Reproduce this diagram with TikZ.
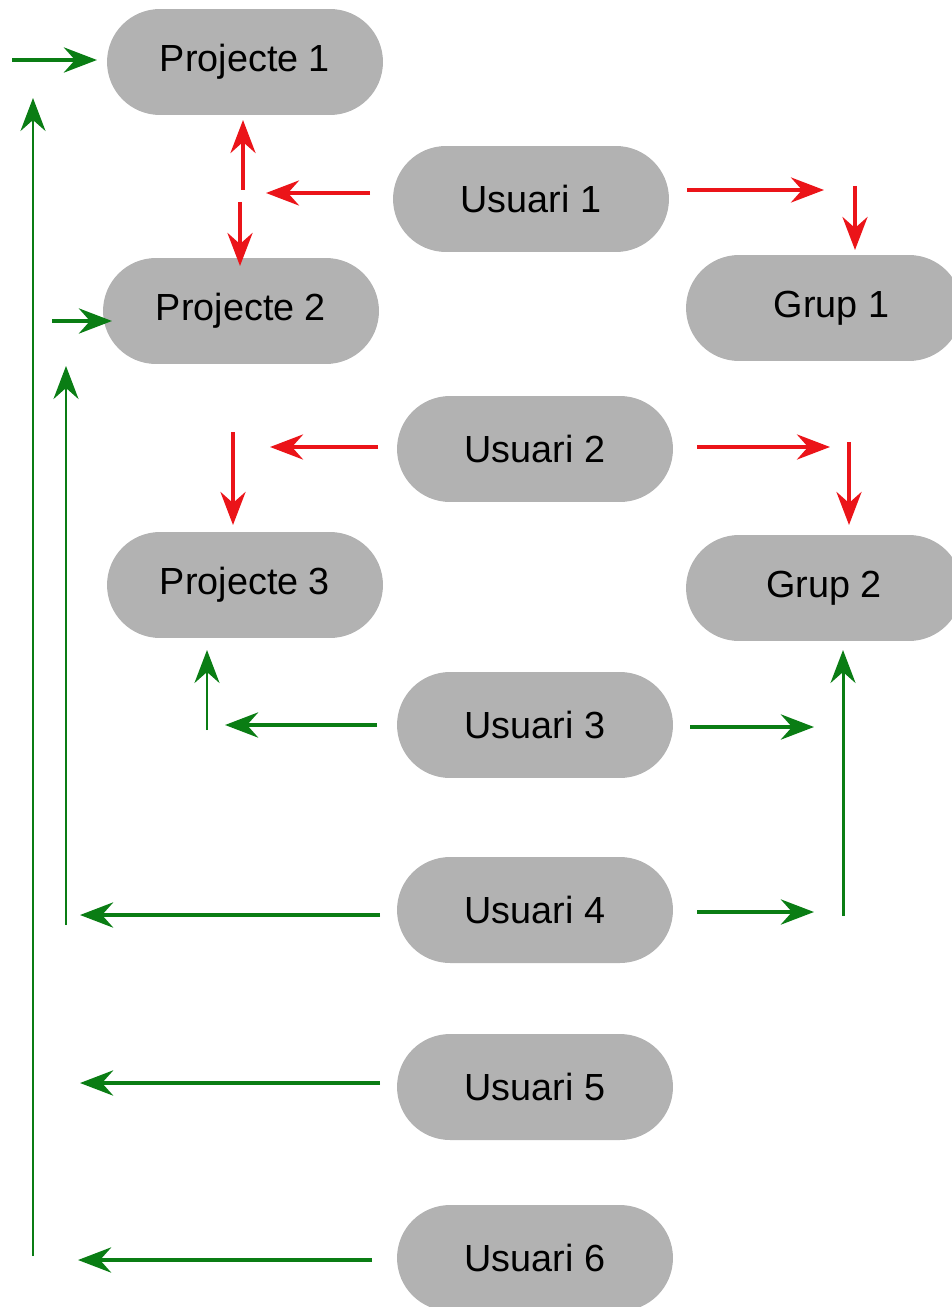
\documentclass[tikz,border=0pt]{standalone}
\usepackage{fontspec}
\setmainfont{Liberation Sans}
\usetikzlibrary{arrows.meta}
\definecolor{boxgray}{RGB}{178,178,178}
\definecolor{arrgreen}{RGB}{10,125,20}
\definecolor{arrred}{RGB}{235,20,25}
\begin{document}
\begin{tikzpicture}[x=0.02cm,y=-0.02cm,
  box/.style={fill=boxgray,draw=none,rounded corners=1.06cm,minimum width=5.52cm,minimum height=2.12cm,inner sep=0pt,font=\fontsize{21.5}{25}\selectfont,text=black},
  tip/.style={-{Stealth[length=0.66cm,width=0.5cm,inset=0.22cm]}},
  garr/.style={tip,draw=arrgreen,fill=arrgreen,line width=2.8pt},
  gthin/.style={tip,draw=arrgreen,fill=arrgreen,line width=1.7pt},
  rarr/.style={tip,draw=arrred,fill=arrred,line width=2.4pt}]
\useasboundingbox (0,0) rectangle (951,1307);
% nodes
\node[box] (p1) at (245,62) {Projecte 1};
\node[box] (u1) at (531,199) {Usuari 1};
\node[box] (p2) at (241,311) {Projecte 2};
\node[box] (g1) at (824,308) {\hspace{0.3cm}Grup 1};
\node[box] (u2) at (535,449) {Usuari 2};
\node[box] (p3) at (245,585) {Projecte 3};
\node[box] (g2) at (824,588) {Grup 2\hspace{0.25cm}};
\node[box] (u3) at (535,725) {Usuari 3};
\node[box] (u4) at (535,910) {Usuari 4};
\node[box] (u5) at (535,1087) {Usuari 5};
\node[box] (u6) at (535,1258) {Usuari 6};
% coordinates
\coordinate (a1s) at (12,60);   \coordinate (a1e) at (97,60);
\coordinate (a2s) at (33,1256); \coordinate (a2e) at (33,98);
\coordinate (a3s) at (52,321);  \coordinate (a3e) at (112,321);
\coordinate (a4s) at (66,925);  \coordinate (a4e) at (66,366);
\coordinate (a5s) at (377,725); \coordinate (a5e) at (225,725);
\coordinate (a6s) at (207,730); \coordinate (a6e) at (207,650);
\coordinate (a7s) at (690,727); \coordinate (a7e) at (814,727);
\coordinate (a8s) at (843,916); \coordinate (a8e) at (843,650);
\coordinate (a9s) at (380,915); \coordinate (a9e) at (80,915);
\coordinate (a10s) at (697,912); \coordinate (a10e) at (814,912);
\coordinate (a11s) at (380,1083); \coordinate (a11e) at (80,1083);
\coordinate (a12s) at (372,1260); \coordinate (a12e) at (78,1260);
\coordinate (r1s) at (370,193); \coordinate (r1e) at (266,193);
\coordinate (r2s) at (243,190); \coordinate (r2e) at (243,120);
\coordinate (r3s) at (240,202); \coordinate (r3e) at (240,266);
\coordinate (r4s) at (687,190); \coordinate (r4e) at (824,190);
\coordinate (r5s) at (855,186); \coordinate (r5e) at (855,250);
\coordinate (r6s) at (378,447); \coordinate (r6e) at (270,447);
\coordinate (r7s) at (233,432); \coordinate (r7e) at (233,525);
\coordinate (r8s) at (697,447); \coordinate (r8e) at (830,447);
\coordinate (r9s) at (849,442); \coordinate (r9e) at (849,525);
% green
\draw[garr] (a1s) -- (a1e);
\draw[gthin] (a2s) -- (a2e);
\draw[garr] (a3s) -- (a3e);
\draw[gthin] (a4s) -- (a4e);
\draw[garr] (a5s) -- (a5e);
\draw[gthin] (a6s) -- (a6e);
\draw[garr] (a7s) -- (a7e);
\draw[gthin] (a8s) -- (a8e);
\draw[garr] (a9s) -- (a9e);
\draw[garr] (a10s) -- (a10e);
\draw[garr] (a11s) -- (a11e);
\draw[garr] (a12s) -- (a12e);
% red
\draw[rarr] (r1s) -- (r1e);
\draw[rarr] (r2s) -- (r2e);
\draw[rarr] (r3s) -- (r3e);
\draw[rarr] (r4s) -- (r4e);
\draw[rarr] (r5s) -- (r5e);
\draw[rarr] (r6s) -- (r6e);
\draw[rarr] (r7s) -- (r7e);
\draw[rarr] (r8s) -- (r8e);
\draw[rarr] (r9s) -- (r9e);
\end{tikzpicture}
\end{document}
